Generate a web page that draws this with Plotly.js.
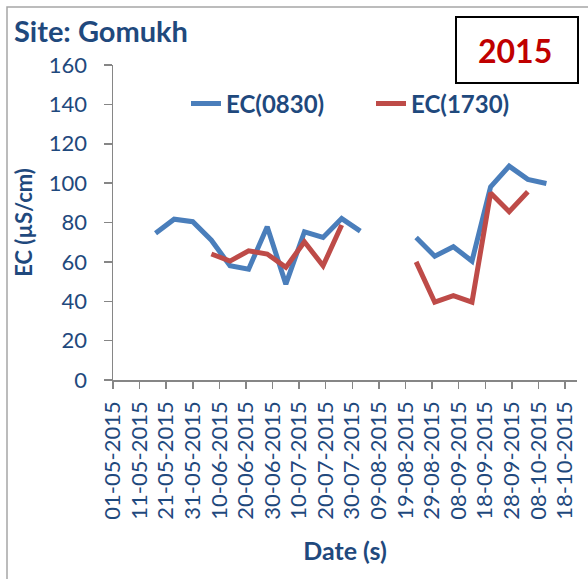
<!DOCTYPE html>
<html>
<head>
<meta charset="utf-8">
<script src="https://cdn.plot.ly/plotly-3.0.1.min.js"></script>
<style>html,body{margin:0;padding:0;background:#fff;}#chart{width:588px;height:579px;}</style>
</head>
<body>
<div id="chart"></div>
<script>
// Sampling dates (weekly)
const dates = [
  "2015-05-17","2015-05-24","2015-05-31","2015-06-07","2015-06-14","2015-06-21",
  "2015-06-28","2015-07-05","2015-07-12","2015-07-19","2015-07-26","2015-08-02",
  "2015-08-09","2015-08-16","2015-08-23","2015-08-30","2015-09-06","2015-09-13",
  "2015-09-20","2015-09-27","2015-10-04","2015-10-11"
];
// EC at 08:30 (µS/cm)
const ec0830 = [74.5, 81.7, 80.4, 71, 58, 56.3, 77.8, 48.7, 75.3, 72.4, 82, 75.6,
  null, null, 72.4, 62.9, 67.7, 60.4, 98.1, 108.6, 101.9, 99.8];
// EC at 17:30 (µS/cm)
const ec1730 = [null, null, null, 64, 60.4, 65.6, 64, 57.2, 70.2, 58, 78.7, null,
  null, null, 60, 39.5, 42.8, 39.5, 95, 85.5, 95.6, null];

const seriesNames = ["EC(0830)", "EC(1730)"];
const yearLabel = "2015";
const siteTitle = "Site: Gomukh";

const txt = "#1F497D";
const F = "Lato, 'Open Sans', sans-serif";

const traces = [
  {x: dates, y: ec0830, name: seriesNames[0], type: "scatter", mode: "lines",
   line: {color: "#4A7EBB", width: 5}, connectgaps: false},
  {x: dates, y: ec1730, name: seriesNames[1], type: "scatter", mode: "lines",
   line: {color: "#BE4B48", width: 5}, connectgaps: false}
];

const L = 113, R = 11, T = 65, B = 199;
const W = 588, H = 579;
const pw = W - L - R, ph = H - T - B;
const px = v => (v - L) / pw;
const py = v => (H - B - v) / ph;

const layout = {
  width: W, height: H,
  margin: {l: L, r: R, t: T, b: B, pad: 0},
  paper_bgcolor: "#fff", plot_bgcolor: "#fff",
  font: {family: F, color: txt},
  title: {text: siteTitle, x: 14 / W, xanchor: "left", xref: "container",
          y: 1 - 32 / H, yanchor: "middle", yref: "container",
          font: {family: F, size: 29, color: txt, weight: "bold"}},
  showlegend: true,
  legend: {orientation: "h", x: px(186), xanchor: "left", y: py(104), yanchor: "middle",
           font: {family: F, size: 24, color: txt, weight: "bold"},
           bgcolor: "rgba(0,0,0,0)", entrywidth: 140, itemwidth: 30},
  xaxis: {type: "date", range: ["2015-05-01", "2015-10-22 12:00"],
          tick0: "2015-05-01", dtick: 10 * 86400000, tickformat: "%d-%m-%Y",
          tickangle: -90, ticks: "outside", ticklen: 7, tickwidth: 1.5, tickcolor: "#868686",
          showline: true, linecolor: "#868686", linewidth: 1.5, showgrid: false, zeroline: false,
          tickfont: {family: F, size: 22, color: txt}, ticklabelstandoff: 4,
          title: {text: "Date (s)", font: {family: F, size: 25, color: txt, weight: "bold"}, standoff: 24}},
  yaxis: {range: [0, 160], dtick: 20, ticks: "outside", ticklen: 8, tickwidth: 1.5, tickcolor: "#868686",
          showline: true, linecolor: "#868686", linewidth: 1.5, showgrid: false, zeroline: false,
          tickfont: {family: F, size: 22, color: txt}, ticklabelstandoff: 12,
          title: {text: "EC (µS/cm)", font: {family: F, size: 22, color: txt, weight: "bold"}, standoff: 10}},
  shapes: [
    {type: "rect", xref: "paper", yref: "paper", x0: px(7), x1: px(620), y0: py(7), y1: py(640),
     line: {color: "#A6A6A6", width: 1.5}, fillcolor: "rgba(0,0,0,0)", layer: "below"},
    {type: "rect", xref: "paper", yref: "paper", x0: px(456), x1: px(578), y0: py(17), y1: py(83),
     line: {color: "#000", width: 2}, fillcolor: "#fff"}
  ],
  annotations: [
    {text: yearLabel, xref: "paper", yref: "paper", x: px(515), y: py(51), xanchor: "center", yanchor: "middle",
     showarrow: false, font: {family: F, size: 32, color: "#C00000", weight: "bold"}}
  ]
};

Plotly.newPlot("chart", traces, layout, {displayModeBar: false, staticPlot: true});
</script>
</body>
</html>
